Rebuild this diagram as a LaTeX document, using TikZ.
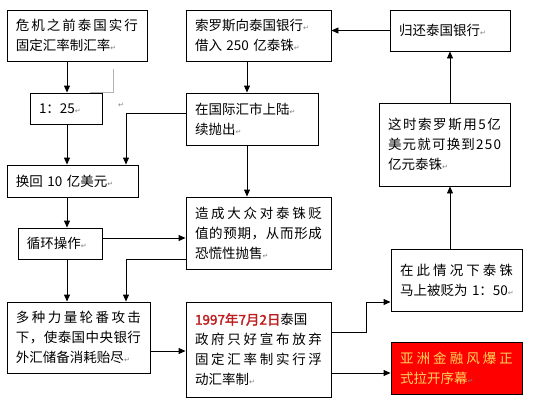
\documentclass[tikz,border=0pt]{standalone}
\usepackage{fontspec}
\setmainfont{Noto Sans CJK SC}[AutoFakeBold=2]
\newfontfamily\symfont{DejaVu Sans}
\usepackage{tikz}
\usetikzlibrary{arrows.meta}
\usetikzlibrary{positioning}
\definecolor{datered}{RGB}{190,30,30}
\definecolor{boxyellow}{RGB}{255,214,90}
\newcommand{\ret}{\rlap{\symfont\fontsize{7}{7}\selectfont\color{gray}↵}}
\newcommand{\dt}{\bfseries\color{datered}}
\ExplSyntaxOn
\NewDocumentCommand{\jl}{m}{\mode_leave_vertical:\hbox_to_wd:nn{\linewidth}{\tl_map_inline:nn{#1}{##1\hfil}\unskip}}
\ExplSyntaxOff

\begin{document}
\begin{tikzpicture}[x=1pt,y=-1pt,>={Triangle[length=7pt,width=6pt]},
	line width=0.9pt,
	flow box/.style={draw,rectangle,inner xsep=9pt,inner ysep=0pt,align=left,
		font=\fontsize{13.5}{20}\selectfont},
	alarm box/.style={flow box,fill=red,text=boxyellow}]
	\useasboundingbox (0,0) rectangle (549,410);
	
	\node[flow box,minimum width=140pt,minimum height=51pt,text width=122pt] (crisis) at (77,35.5)
		{\jl{危机之前泰国实行}\\固定汇率制汇率\ret};
	\node[flow box,minimum width=72pt,minimum height=31pt,text width=54pt] (rate) at (66,108.5)
		{1：25\ret};
	\node[flow box,minimum width=145pt,minimum height=51pt,text width=127pt] (borrow) at (258.5,35.5)
		{索罗斯向泰国银行\ret\\借入 250 亿泰铢\ret};
	\node[flow box,minimum width=120pt,minimum height=41pt,text width=102pt] (repay) at (450,30.5)
		{归还泰国银行\ret};
	\node[flow box,minimum width=132pt,minimum height=52pt,text width=114pt] (sell) at (252,119)
		{在国际汇市上陆\ret\\续抛出\ret};
	\node[flow box,minimum width=131pt,minimum height=83pt,text width=113pt] (swap) at (444.5,144.5)
		{\jl{这时索罗斯用5亿}\\\jl{美元就可换到250}\\亿元泰铢\ret};
	\node[flow box,minimum width=131pt,minimum height=32pt,text width=113pt] (back) at (72.5,181)
		{换回 10 亿美元\ret};
	\node[flow box,minimum width=84pt,minimum height=31pt,text width=66pt] (loop) at (60,243.5)
		{循环操作\ret};
	\node[flow box,minimum width=145pt,minimum height=72pt,text width=127pt] (panic) at (258.5,233)
		{\jl{造成大众对泰铢贬}\\\jl{值的预期，从而形成}\\恐慌性抛售\ret};
	\node[flow box,minimum width=131pt,minimum height=62pt,text width=113pt] (devalue) at (456.5,280)
		{\jl{在此情况下泰铢}\\马上被贬为 1：50\ret};
	\node[flow box,minimum width=143pt,minimum height=71pt,text width=125pt] (drain) at (78.5,337.5)
		{\jl{多种力量轮番攻击}\\\jl{下，使泰国中央银行}\\外汇储备消耗贻尽\ret};
	\node[flow box,minimum width=145pt,minimum height=95pt,text width=127pt] (float) at (258.5,349.5)
		{{\dt 1997年7月2日}泰国\\\jl{政府只好宣布放弃}\\\jl{固定汇率制实行浮}\\动汇率制\ret};
	\node[alarm box,minimum width=131pt,minimum height=52pt,text width=113pt] (start) at (456.5,368)
		{\jl{亚洲金融风爆正}\\式拉开序幕\ret};
	\node[inner sep=0pt] (mark) at (118,105) {\ret};
	
	\coordinate (colL) at (67,0);
	\coordinate (colN) at (126,0);
	\coordinate (colM) at (247,0);
	\coordinate (colR) at (450,0);
	
	\draw[gray!60,line width=0.7pt] (113,69) |- (90,92);
	
	\draw[->] (crisis.south -| colL) -- (rate.north -| colL);
	\draw[->] (rate.south -| colL) -- (back.north -| colL);
	\draw[->] (back.south -| colL) -- (loop.north -| colL);
	\draw[->] (loop.south -| colL) -- (drain.north -| colL);
	\draw[->] (borrow.south -| colM) -- (sell.north -| colM);
	\draw[->] (sell.south -| colM) -- (panic.north -| colM);
	\draw[->] (repay.west) -- (repay.west -| borrow.east);
	\draw[->] ([yshift=6pt]sell.west) -| (back.north -| colN);
	\draw[->] ([yshift=-26pt]panic.west) -| (drain.north -| colN);
	\draw[->] ([yshift=5.5pt]loop.east) -- ([yshift=5.5pt]loop.east -| panic.west);
	\draw[->] ([yshift=-13.5pt]drain.east) -- ([yshift=-13.5pt]drain.east -| float.west);
	\draw[->] ([yshift=17.5pt]float.east) -| ([xshift=-24pt,yshift=-22pt]devalue.west) -- ([yshift=-22pt]devalue.west);
	\draw[->] ([yshift=-23.5pt]float.east) -- ([yshift=-23.5pt]float.east -| start.west);
	\draw[->] (devalue.north -| colR) -- (swap.south -| colR);
	\draw[->] (swap.north -| colR) -- (repay.south);
\end{tikzpicture}
\end{document}
